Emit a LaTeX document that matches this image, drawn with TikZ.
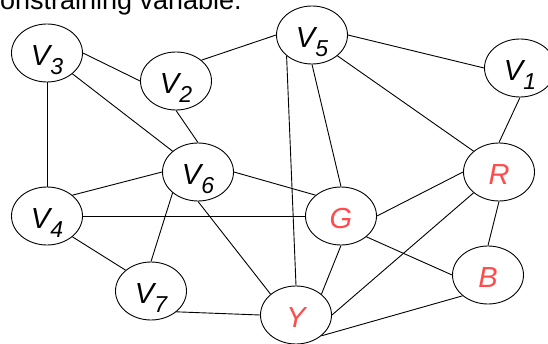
\documentclass[tikz,border=0pt]{standalone}
\usepackage{fontspec}
\setmainfont{Liberation Sans}
\usepackage{tikz}
\usetikzlibrary{shapes.geometric}
\pgfdeclarelayer{nodelayer}
\pgfdeclarelayer{edgelayer}
\pgfsetlayers{main,edgelayer,nodelayer}
\definecolor{valRed}{RGB}{255,75,75}
\tikzstyle{conn}=[black, line width=0.9pt]
\tikzstyle{heading}=[inner sep=0pt, font=\fontsize{27}{27}\selectfont]
\tikzstyle{varNode}=[ellipse, draw=black, fill=white, line width=0.9pt, minimum width=71pt, minimum height=58pt, inner sep=0pt, text height=25pt, text depth=0pt, font=\fontsize{29}{29}\selectfont\itshape]
\tikzstyle{valNode}=[style=varNode, text=valRed]
\newcommand{\vsub}[1]{V\raisebox{-9pt}{\fontsize{23}{23}\selectfont #1}}

\begin{document}
\begin{tikzpicture}[x=1pt, y=1pt]
        \useasboundingbox (0, 0) rectangle (548, 343);
        \begin{pgfonlayer}{nodelayer}
            \node [style=heading, anchor=base east] (title) at (242, 333.5) {constraining variable.};

            % variables
            \node [style=varNode] (V3) at (47, 290) {\vsub{3}};
            \node [style=varNode] (V2) at (176, 262) {\vsub{2}};
            \node [style=varNode] (V5) at (312, 308) {\vsub{5}};
            \node [style=varNode] (V1) at (520, 275) {\vsub{1}};
            \node [style=varNode] (V6) at (198, 171) {\vsub{6}};
            \node [style=varNode] (V4) at (47, 127) {\vsub{4}};
            \node [style=varNode] (V7) at (151, 52) {\vsub{7}};

            % values
            \node [style=valNode] (R) at (499, 171) {R};
            \node [style=valNode] (G) at (341, 127) {G};
            \node [style=valNode] (B) at (488, 68) {B};
            \node [style=valNode] (Y) at (296, 28) {Y};
        \end{pgfonlayer}
        \begin{pgfonlayer}{edgelayer}
            %Top
            \draw [style=conn] (V3.east) to (V2.west);
            \draw [style=conn] (V3.south) to (V4.north);
            \draw [style=conn] (V3.south east) to (V6.north west);
            \draw [style=conn] (V2.north east) to (V5.west);
            \draw [style=conn] (V2.south) to (V6.north);
            \draw [style=conn] (V5.east) to (V1.west);
            \draw [style=conn] (V5.south east) to (R.north west);
            \draw [style=conn] (V5.south) to (G.north);
            \draw [style=conn] (V5.south west) to (Y.north);
            \draw [style=conn] (V1.south) to (R.north);

            % Middle
            \draw [style=conn] (V6.west) to (V4.north east);
            \draw [style=conn] (V6.east) to (G.north west);
            \draw [style=conn] (V6.south west) to (V7.north);
            \draw [style=conn] (V6.south) to (Y.north west);
            \draw [style=conn] (V4.east) to (G.west);
            \draw [style=conn] (G.east) to (R.west);

            %Bottom
            \draw [style=conn] (V4.south east) to (V7.north west);
            \draw [style=conn] (V7.south east) to (Y.west);
            \draw [style=conn] (G.south east) to (B.west);
            \draw [style=conn] (G.south) to (Y.north east);
            \draw [style=conn] (R.south west) to (Y.east);
            \draw [style=conn] (R.south) to (B.north);
            \draw [style=conn] (B.south west) to (Y.south east);
        \end{pgfonlayer}
    \end{tikzpicture}
\end{document}
